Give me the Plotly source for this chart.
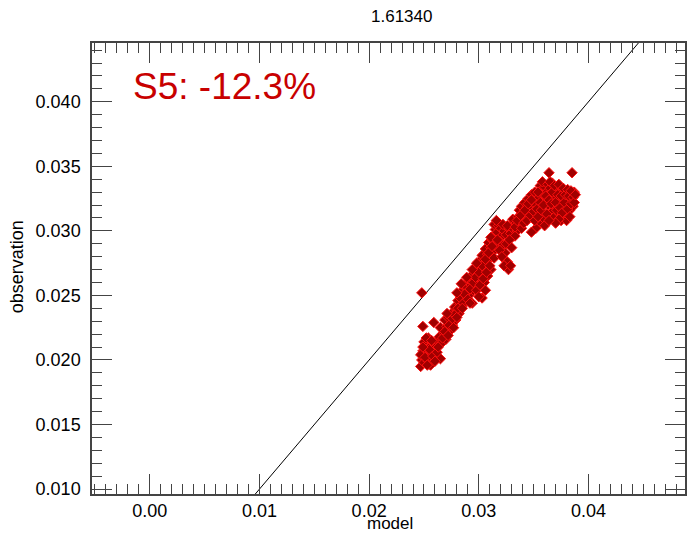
import plotly.graph_objects as go

# ---- data ----
model = [
    0.0247, 0.0248, 0.0250, 0.0252, 0.0249, 0.0251, 0.0254, 0.0256, 0.0253, 0.0257,
    0.0259, 0.0255, 0.0258, 0.0260, 0.0261, 0.0262, 0.0250, 0.0247, 0.0254, 0.0256,
    0.0265, 0.0252, 0.0249, 0.0259, 0.0248,
    0.0264, 0.0266, 0.0268, 0.0265, 0.0270, 0.0271, 0.0273, 0.0274, 0.0276, 0.0277,
    0.0275, 0.0279, 0.0280, 0.0278, 0.0282, 0.0283, 0.0281, 0.0285, 0.0286, 0.0284,
    0.0288, 0.0289, 0.0287, 0.0269, 0.0272,
    0.0291, 0.0293, 0.0292, 0.0295, 0.0296, 0.0294, 0.0298, 0.0299, 0.0297, 0.0301,
    0.0302, 0.0300, 0.0304, 0.0305, 0.0303, 0.0307, 0.0308, 0.0306, 0.0310, 0.0311,
    0.0309, 0.0313, 0.0312, 0.0294, 0.0303, 0.0305, 0.0308, 0.0311,
    0.0313, 0.0315, 0.0314, 0.0317, 0.0318, 0.0316, 0.0320, 0.0321, 0.0319, 0.0323,
    0.0315, 0.0322, 0.0324, 0.0326, 0.0327, 0.0323, 0.0329,
    0.0325, 0.0327, 0.0329, 0.0330, 0.0332, 0.0331, 0.0334, 0.0335, 0.0336, 0.0338,
    0.0337, 0.0340, 0.0341, 0.0339, 0.0343, 0.0344, 0.0342, 0.0346, 0.0347, 0.0345,
    0.0349, 0.0350, 0.0348, 0.0352, 0.0353, 0.0351, 0.0333,
    0.0355, 0.0357, 0.0356, 0.0359, 0.0360, 0.0358, 0.0362, 0.0363, 0.0364, 0.0365,
    0.0366, 0.0368, 0.0367, 0.0370, 0.0371, 0.0373, 0.0374, 0.0376, 0.0377, 0.0379,
    0.0380, 0.0382, 0.0383, 0.0385, 0.0386, 0.0387, 0.0385, 0.0378, 0.0375, 0.0372,
    0.0369, 0.0366, 0.0363, 0.0361, 0.0358, 0.0355, 0.0352, 0.0360, 0.0380, 0.0348,
    # additional points filling the band
    0.0251, 0.0255, 0.0258, 0.0253, 0.0260, 0.0262, 0.0249, 0.0257,
    0.0263, 0.0267, 0.0269, 0.0272, 0.0273, 0.0276, 0.0278, 0.0280, 0.0281, 0.0283,
    0.0286, 0.0287, 0.0290, 0.0277, 0.0271,
    0.0292, 0.0295, 0.0297, 0.0298, 0.0300, 0.0301, 0.0303, 0.0304, 0.0306, 0.0307,
    0.0309, 0.0310, 0.0312, 0.0314, 0.0311,
    0.0317, 0.0319, 0.0321, 0.0322, 0.0325, 0.0328, 0.0330, 0.0326, 0.0333, 0.0335,
    0.0338, 0.0339, 0.0341, 0.0342, 0.0344, 0.0345, 0.0347, 0.0348, 0.0350, 0.0351,
    0.0353, 0.0354, 0.0356, 0.0354,
    0.0357, 0.0359, 0.0361, 0.0362, 0.0364, 0.0365, 0.0366, 0.0367, 0.0368, 0.0369,
    0.0370, 0.0371, 0.0372, 0.0373, 0.0374, 0.0375, 0.0376, 0.0377, 0.0378, 0.0379,
    0.0381, 0.0381, 0.0382, 0.0384, 0.0384, 0.0386, 0.0387, 0.0383, 0.0388, 0.0373,
    0.0370, 0.0364,
    0.0285, 0.0292, 0.0300, 0.0306, 0.0280, 0.0284, 0.0289, 0.0294, 0.0298,
]
observation = [
    0.0195, 0.0200, 0.0198, 0.0203, 0.0207, 0.0211, 0.0199, 0.0205, 0.0209, 0.0201,
    0.0208, 0.0213, 0.0212, 0.0204, 0.0210, 0.0215, 0.0214, 0.0204, 0.0217, 0.0196,
    0.0201, 0.0217, 0.0226, 0.0229, 0.0252,
    0.0218, 0.0213, 0.0221, 0.0225, 0.0216, 0.0226, 0.0222, 0.0230, 0.0227, 0.0234,
    0.0236, 0.0231, 0.0238, 0.0241, 0.0236, 0.0243, 0.0246, 0.0242, 0.0250, 0.0253,
    0.0247, 0.0255, 0.0258, 0.0231, 0.0233,
    0.0250, 0.0258, 0.0262, 0.0254, 0.0262, 0.0266, 0.0259, 0.0267, 0.0271, 0.0264,
    0.0272, 0.0276, 0.0269, 0.0277, 0.0281, 0.0274, 0.0282, 0.0286, 0.0279, 0.0287,
    0.0291, 0.0284, 0.0293, 0.0244, 0.0248, 0.0260, 0.0265, 0.0270,
    0.0296, 0.0301, 0.0305, 0.0299, 0.0304, 0.0308, 0.0302, 0.0296, 0.0292, 0.0300,
    0.0289, 0.0289, 0.0283, 0.0276, 0.0270, 0.0273, 0.0273,
    0.0297, 0.0302, 0.0298, 0.0305, 0.0301, 0.0309, 0.0306, 0.0300, 0.0311, 0.0305,
    0.0316, 0.0309, 0.0314, 0.0319, 0.0311, 0.0318, 0.0322, 0.0315, 0.0321, 0.0325,
    0.0318, 0.0324, 0.0328, 0.0320, 0.0327, 0.0330, 0.0296,
    0.0326, 0.0331, 0.0335, 0.0328, 0.0334, 0.0338, 0.0330, 0.0336, 0.0345, 0.0333,
    0.0327, 0.0331, 0.0337, 0.0326, 0.0333, 0.0329, 0.0323, 0.0331, 0.0325, 0.0319,
    0.0328, 0.0322, 0.0316, 0.0325, 0.0319, 0.0330, 0.0345, 0.0313, 0.0308, 0.0312,
    0.0318, 0.0314, 0.0320, 0.0323, 0.0310, 0.0305, 0.0302, 0.0304, 0.0308, 0.0299,
    # additional points filling the band
    0.0202, 0.0208, 0.0203, 0.0196, 0.0199, 0.0206, 0.0210, 0.0215,
    0.0210, 0.0217, 0.0222, 0.0219, 0.0227, 0.0232, 0.0235, 0.0233, 0.0240, 0.0248,
    0.0244, 0.0251, 0.0247, 0.0225, 0.0236,
    0.0255, 0.0260, 0.0264, 0.0254, 0.0268, 0.0258, 0.0273, 0.0263, 0.0278, 0.0268,
    0.0283, 0.0273, 0.0288, 0.0279, 0.0295,
    0.0293, 0.0285, 0.0280, 0.0305, 0.0290, 0.0293, 0.0287, 0.0304, 0.0303, 0.0308,
    0.0312, 0.0302, 0.0306, 0.0316, 0.0308, 0.0321, 0.0312, 0.0324, 0.0315, 0.0308,
    0.0317, 0.0330, 0.0322, 0.0311,
    0.0316, 0.0320, 0.0327, 0.0313, 0.0324, 0.0338, 0.0321, 0.0330, 0.0310, 0.0335,
    0.0322, 0.0316, 0.0328, 0.0336, 0.0318, 0.0327, 0.0314, 0.0333, 0.0322, 0.0328,
    0.0317, 0.0332, 0.0327, 0.0321, 0.0331, 0.0326, 0.0322, 0.0311, 0.0328, 0.0309,
    0.0306, 0.0308,
    0.0240, 0.0244, 0.0249, 0.0254, 0.0252, 0.0259, 0.0264, 0.0270, 0.0275,
]
one_to_one = [0.0, 0.05]

title_text = "1.61340"
label_text = "S5: -12.3%"
x_label = "model"
y_label = "observation"

x_range = [-0.00527, 0.0488]
y_range = [0.00962, 0.04455]

# ---- figure ----
W, H = 689, 535
L, R, T, B = 92, 2, 43, 41
PW, PH = W - L - R, H - T - B
FONT = "Liberation Sans, Arial, Helvetica, sans-serif"
AX = "#444444"


def px_x(px):
    return (px - L) / PW


def px_y(py):
    return (H - B - py) / PH


fig = go.Figure()
fig.add_trace(go.Scatter(
    x=one_to_one, y=one_to_one, mode="lines",
    line=dict(color="black", width=1), hoverinfo="skip", showlegend=False,
))
fig.add_trace(go.Scatter(
    x=model, y=observation, mode="markers",
    marker=dict(symbol="diamond", size=8, color="#a00000",
                line=dict(color="#ff1010", width=1)),
    showlegend=False,
))

axis_common = dict(
    showgrid=False, zeroline=False, showline=True, linecolor=AX, linewidth=1.5,
    mirror="allticks", ticks="inside", ticklen=20, tickwidth=1.2, tickcolor=AX,
    tickfont=dict(family=FONT, size=18, color="black"),
)
fig.update_xaxes(
    range=x_range, tick0=0, dtick=0.01, tickformat=".2f", ticklabelstandoff=0,
    minor=dict(dtick=0.001, tick0=0, ticks="inside", ticklen=10, tickwidth=1.2, tickcolor=AX),
    **axis_common,
)
fig.update_yaxes(
    range=y_range, tick0=0, dtick=0.005, tickformat=".3f", ticklabelstandoff=6,
    minor=dict(dtick=0.001, tick0=0, ticks="inside", ticklen=10, tickwidth=1.2, tickcolor=AX),
    **axis_common,
)

fig.add_annotation(text=title_text, xref="paper", yref="paper", x=px_x(403), y=px_y(16),
                   xanchor="center", yanchor="middle",
                   showarrow=False, font=dict(family=FONT, size=17, color="black"))
fig.add_annotation(text=label_text, xref="paper", yref="paper", x=px_x(131), y=px_y(86),
                   xanchor="left", yanchor="middle",
                   showarrow=False, font=dict(family=FONT, size=37, color="#c80000"))
fig.add_annotation(text=x_label, xref="paper", yref="paper", x=px_x(391), y=px_y(523),
                   xanchor="center", yanchor="middle", borderpad=0,
                   showarrow=False, font=dict(family=FONT, size=17, color="black"))
fig.add_annotation(text=y_label, xref="paper", yref="paper", x=px_x(17), y=px_y(267),
                   xanchor="center", yanchor="middle",
                   textangle=-90, showarrow=False, font=dict(family=FONT, size=18, color="black"))

fig.update_layout(
    width=W, height=H, margin=dict(l=L, r=R, t=T, b=B, pad=0),
    paper_bgcolor="white", plot_bgcolor="white",
)
fig.write_html("out.html", config={"displayModeBar": False},
               post_script="document.body.style.margin='0';document.body.style.overflow='hidden';")
